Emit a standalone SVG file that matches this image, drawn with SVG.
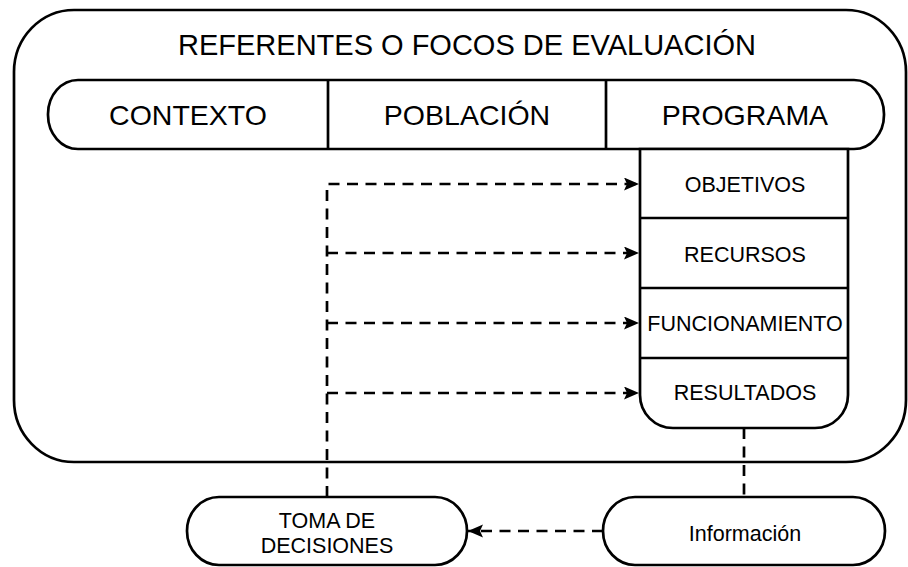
<svg xmlns="http://www.w3.org/2000/svg" width="908" height="567" viewBox="0 0 908 567">
<style>
.box{fill:#fff;stroke:#000;stroke-width:2.7}
.ln{fill:none;stroke:#000;stroke-width:2.7}
.dash{fill:none;stroke:#000;stroke-width:2.7;stroke-dasharray:11 7.5}
text{font-family:"Liberation Sans",Arial,sans-serif;fill:#000;text-anchor:middle}
.t1{font-size:29px}
.t2{font-size:28.5px}
.t3{font-size:21.5px}
</style>
<defs>
<marker id="ah" markerUnits="userSpaceOnUse" markerWidth="16" markerHeight="14" refX="15" refY="6.5" orient="auto">
<path d="M0,0 L15,6.5 L0,13 L3,6.5 z" fill="#000"/>
</marker>
</defs>
<g id="referentes">
<rect class="box" x="14" y="10" width="892" height="452" rx="60" ry="62"/>
<text class="t1" x="467" y="55">REFERENTES O FOCOS DE EVALUACIÓN</text>
</g>
<g id="header">
<rect class="box" x="48" y="80" width="836" height="69" rx="30" ry="34"/>
<line class="ln" x1="328" y1="80" x2="328" y2="149"/>
<line class="ln" x1="606" y1="80" x2="606" y2="149"/>
</g>
<g id="contexto"><text class="t2" x="188" y="125">CONTEXTO</text></g>
<g id="poblacion"><text class="t2" x="467" y="125">POBLACIÓN</text></g>
<g id="programa"><text class="t2" x="745" y="125">PROGRAMA</text></g>
<g id="programa-col">
<path class="box" d="M640,149 H848 V395 A33,33 0 0 1 815,428 H673 A33,33 0 0 1 640,395 Z"/>
<line class="ln" x1="640" y1="218" x2="848" y2="218"/>
<line class="ln" x1="640" y1="288" x2="848" y2="288"/>
<line class="ln" x1="640" y1="358" x2="848" y2="358"/>
</g>
<g id="objetivos"><text class="t3" x="745" y="192">OBJETIVOS</text></g>
<g id="recursos"><text class="t3" x="745" y="262">RECURSOS</text></g>
<g id="funcionamiento"><text class="t3" x="745" y="331">FUNCIONAMIENTO</text></g>
<g id="resultados"><text class="t3" x="745" y="400">RESULTADOS</text></g>
<g id="toma">
<rect class="box" x="187" y="497" width="280" height="68" rx="32" ry="34"/>
<text class="t3" x="327" y="528">TOMA DE</text>
<text class="t3" x="327" y="553">DECISIONES</text>
</g>
<g id="informacion">
<rect class="box" x="603" y="497" width="282" height="68" rx="32" ry="34"/>
<text class="t3" x="745" y="541">Información</text>
</g>
<g id="connectors">
<path class="dash" d="M327,497 V184 H639" marker-end="url(#ah)"/>
<path class="dash" d="M327,253 H639" marker-end="url(#ah)"/>
<path class="dash" d="M327,323 H639" marker-end="url(#ah)"/>
<path class="dash" d="M327,393 H639" marker-end="url(#ah)"/>
<path class="dash" d="M744,428 V497"/>
<path class="dash" d="M603,531 H468" marker-end="url(#ah)"/>
</g>
</svg>
